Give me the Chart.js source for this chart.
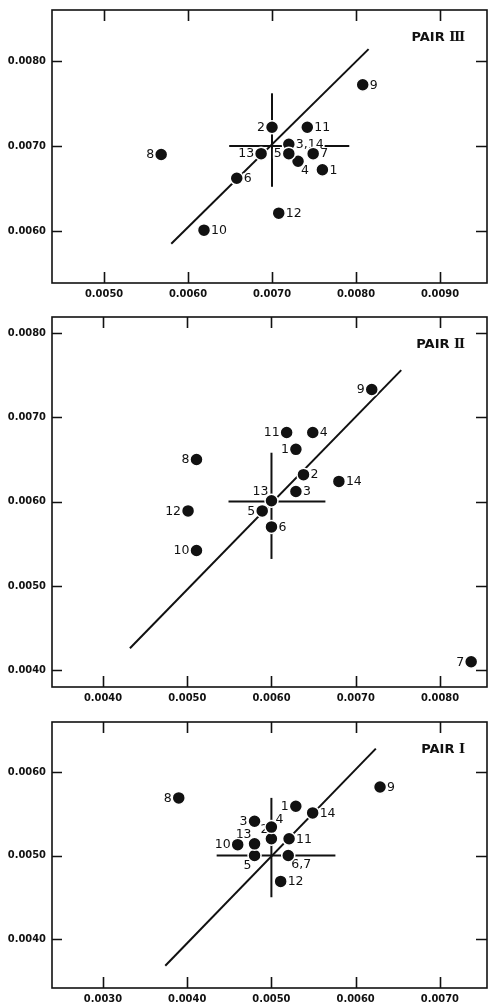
<!DOCTYPE html>
<html lang="en">
<head>
<meta charset="UTF-8">
<title>Pairs I - III</title>
<script src="https://cdn.jsdelivr.net/npm/chart.js"></script>
<style>
  body { margin: 0; background: #fff; }
  #wrap { position: relative; width: 488px; height: 1007px; }
  canvas { position: absolute; left: 0; }
</style>
</head>
<body>
<div id="wrap">
  <canvas id="pair3" width="488" height="305" style="top:0px"></canvas>
  <canvas id="pair2" width="488" height="400" style="top:305px"></canvas>
  <canvas id="pair1" width="488" height="302" style="top:705px"></canvas>
</div>
<script>
// ---- PAIR III ----
const pair3Labels = ['1', '2', '3,14', '4', '5', '6', '7', '8', '9', '10', '11', '12', '13'];
const pair3X = [0.00760, 0.00700, 0.00720, 0.00731, 0.00720, 0.00658, 0.00749, 0.00568, 0.00808, 0.00619, 0.00742, 0.00708, 0.00687];
const pair3Y = [0.00672, 0.00722, 0.00702, 0.00682, 0.00691, 0.00662, 0.00691, 0.00690, 0.00772, 0.00601, 0.00722, 0.00621, 0.00691];
const pair3FitX = [0.00580, 0.00815];
const pair3FitY = [0.00585, 0.00814];
const pair3Mean = [0.00700, 0.00700];
const pair3SpreadX = [0.00649, 0.00792];
const pair3SpreadY = [0.00652, 0.00762];
const pair3XTicks = [0.0050, 0.0060, 0.0070, 0.0080, 0.0090];
const pair3YTicks = [0.0060, 0.0070, 0.0080];
const pair3XRange = [0.00438, 0.00956];
const pair3YRange = [0.005388, 0.00860];

// ---- PAIR II ----
const pair2Labels = ['1', '2', '3', '4', '5', '6', '7', '8', '9', '10', '11', '12', '13', '14'];
const pair2X = [0.00629, 0.00638, 0.00629, 0.00649, 0.00589, 0.00600, 0.00837, 0.00511, 0.00719, 0.00511, 0.00618, 0.00501, 0.00600, 0.00680];
const pair2Y = [0.00662, 0.00632, 0.00612, 0.00682, 0.00589, 0.00570, 0.00410, 0.00650, 0.00733, 0.00542, 0.00682, 0.00589, 0.00601, 0.00624];
const pair2FitX = [0.00432, 0.00754];
const pair2FitY = [0.00426, 0.00756];
const pair2Mean = [0.00600, 0.00600];
const pair2SpreadX = [0.00549, 0.00664];
const pair2SpreadY = [0.00532, 0.00658];
const pair2XTicks = [0.0040, 0.0050, 0.0060, 0.0070, 0.0080];
const pair2YTicks = [0.0040, 0.0050, 0.0060, 0.0070, 0.0080];
const pair2XRange = [0.003395, 0.008558];
const pair2YRange = [0.003801, 0.00819];

// ---- PAIR I ----
const pair1Labels = ['1', '2', '3', '4', '5', '6,7', '8', '9', '10', '11', '12', '13', '14'];
const pair1X = [0.00529, 0.00500, 0.00480, 0.00500, 0.00480, 0.00520, 0.00390, 0.00629, 0.00460, 0.00521, 0.00511, 0.00480, 0.00549];
const pair1Y = [0.00559, 0.00520, 0.00541, 0.00534, 0.00500, 0.00500, 0.00569, 0.00582, 0.00513, 0.00520, 0.00469, 0.00514, 0.00551];
const pair1FitX = [0.00374, 0.00624];
const pair1FitY = [0.00368, 0.00628];
const pair1Mean = [0.00500, 0.00500];
const pair1SpreadX = [0.00435, 0.00576];
const pair1SpreadY = [0.00450, 0.00569];
const pair1XTicks = [0.0030, 0.0040, 0.0050, 0.0060, 0.0070];
const pair1YTicks = [0.0040, 0.0050, 0.0060];
const pair1XRange = [0.002395, 0.00756];
const pair1YRange = [0.003413, 0.006599];

// where each number sits relative to its dot
const pair3Side = ['r', 'l', 'r', 'dr', 'l', 'r', 'r', 'l', 'r', 'r', 'r', 'r', 'l'];
const pair2Side = ['l', 'r', 'r', 'r', 'l', 'r', 'l', 'l', 'l', 'l', 'l', 'l', 'ul', 'r'];
const pair1Side = ['l', 'ul', 'l', 'ur', 'dl', 'dr', 'l', 'r', 'l', 'r', 'r', 'ul', 'r'];

const INK = '#111';
const SANS = "'DejaVu Sans', sans-serif";

// frame, inward ticks, point numbers and the panel name
const decor = {
  id: 'decor',
  beforeDatasetDraw(chart, args, opts) {
    if (args.index !== 0) return;   // numbers go over the lines, under the dots
    const ctx = chart.ctx;
    const meta = chart.getDatasetMeta(0);
    ctx.save();
    ctx.font = '12.5px ' + SANS;
    ctx.textBaseline = 'middle';
    meta.data.forEach((pt, i) => {
      const txt = opts.labels[i];
      const side = opts.side[i];
      let x = pt.x, y = pt.y, align = 'left';
      if (side === 'r') { x += 7; }
      else if (side === 'l') { x -= 7; align = 'right'; }
      else if (side === 'ur') { x += 4; y -= 8; }
      else if (side === 'ul') { x -= 3; y -= 10; align = 'right'; }
      else if (side === 'dr') { x += 3; y += 9; }
      else if (side === 'dl') { x -= 3; y += 10; align = 'right'; }
      const w = ctx.measureText(txt).width;
      const x0 = align === 'left' ? x : x - w;
      ctx.fillStyle = '#fff';
      ctx.fillRect(x0 - 1, y - 5, w + 2, 10);
      ctx.fillStyle = INK;
      ctx.textAlign = align;
      ctx.fillText(txt, x, y + 0.5);
    });
    ctx.restore();
  },
  afterDraw(chart, args, opts) {
    const ctx = chart.ctx;
    const a = chart.chartArea;
    const xs = chart.scales.x, ys = chart.scales.y;
    ctx.save();
    ctx.strokeStyle = INK;
    ctx.lineWidth = 1.6;
    ctx.strokeRect(a.left, a.top, a.right - a.left, a.bottom - a.top);
    ctx.beginPath();
    opts.xTicks.forEach(v => {
      const p = Math.round(xs.getPixelForValue(v)) + 0.5;
      ctx.moveTo(p, a.bottom); ctx.lineTo(p, a.bottom - 11);
      ctx.moveTo(p, a.top); ctx.lineTo(p, a.top + 11);
    });
    opts.yTicks.forEach(v => {
      const p = Math.round(ys.getPixelForValue(v)) + 0.5;
      ctx.moveTo(a.left, p); ctx.lineTo(a.left + 10, p);
      ctx.moveTo(a.right, p); ctx.lineTo(a.right - 11, p);
    });
    ctx.stroke();

    // panel name: sans word, serif roman numeral
    const ty = a.top + 28;
    ctx.fillStyle = INK;
    ctx.textBaseline = 'middle';
    ctx.font = "bold 13px 'DejaVu Serif', serif";
    const numW = ctx.measureText(opts.numeral).width;
    const right = a.right - 22;
    ctx.textAlign = 'right';
    ctx.fillText(opts.numeral, right, ty);
    ctx.font = 'bold 13px ' + SANS;
    ctx.fillText('PAIR ', right - numW, ty);
    ctx.restore();
  }
};

function pts(xs, ys) {
  return xs.map((x, i) => ({ x: x, y: ys[i] }));
}

function drawPair(id, p) {
  const canvas = document.getElementById(id);
  const tickFont = { family: "'DejaVu Sans Condensed', 'DejaVu Sans', sans-serif", size: 11, weight: 'bold' };
  const lineStyle = { showLine: true, borderColor: INK, borderWidth: 2, pointRadius: 0, fill: false };
  new Chart(canvas.getContext('2d'), {
    type: 'scatter',
    data: {
      datasets: [
        {
          data: pts(p.x, p.y),
          pointRadius: 6.5,
          pointBackgroundColor: INK,
          pointBorderColor: '#fff',
          pointBorderWidth: 1.5
        },
        Object.assign({ data: pts(p.fitX, p.fitY) }, lineStyle),
        Object.assign({ data: pts(p.spreadX, [p.mean[1], p.mean[1]]) }, lineStyle),
        Object.assign({ data: pts([p.mean[0], p.mean[0]], p.spreadY) }, lineStyle)
      ]
    },
    options: {
      responsive: false,
      animation: false,
      events: [],
      layout: { autoPadding: false, padding: { top: p.top, right: 1, left: 0, bottom: 0 } },
      plugins: {
        legend: { display: false },
        tooltip: { enabled: false },
        decor: {
          labels: p.labels, side: p.side, numeral: p.numeral,
          xTicks: p.xTicks, yTicks: p.yTicks
        }
      },
      scales: {
        x: {
          type: 'linear',
          min: p.xRange[0], max: p.xRange[1],
          grid: { display: false, drawTicks: false },
          border: { display: false },
          afterBuildTicks: s => { s.ticks = p.xTicks.map(v => ({ value: v })); },
          afterFit: s => {
            s.height = canvas.height - p.areaBottom;
            s.paddingLeft = 0; s.paddingRight = 0;
          },
          ticks: {
            color: INK, font: tickFont, padding: 5, maxRotation: 0,
            callback: v => v.toFixed(4)
          }
        },
        y: {
          type: 'linear',
          min: p.yRange[0], max: p.yRange[1],
          grid: { display: false, drawTicks: false },
          border: { display: false },
          afterBuildTicks: s => { s.ticks = p.yTicks.map(v => ({ value: v })); },
          afterFit: s => {
            s.width = 52;
            s.paddingTop = 0; s.paddingBottom = 0;
          },
          ticks: {
            color: INK, font: tickFont, padding: 6,
            callback: v => v.toFixed(4)
          }
        }
      }
    },
    plugins: [decor]
  });
}

drawPair('pair3', {
  labels: pair3Labels, x: pair3X, y: pair3Y, side: pair3Side,
  fitX: pair3FitX, fitY: pair3FitY, mean: pair3Mean,
  spreadX: pair3SpreadX, spreadY: pair3SpreadY,
  xTicks: pair3XTicks, yTicks: pair3YTicks,
  xRange: pair3XRange, yRange: pair3YRange,
  numeral: '\u2162', top: 10, areaBottom: 283
});
drawPair('pair2', {
  labels: pair2Labels, x: pair2X, y: pair2Y, side: pair2Side,
  fitX: pair2FitX, fitY: pair2FitY, mean: pair2Mean,
  spreadX: pair2SpreadX, spreadY: pair2SpreadY,
  xTicks: pair2XTicks, yTicks: pair2YTicks,
  xRange: pair2XRange, yRange: pair2YRange,
  numeral: '\u2161', top: 12, areaBottom: 382
});
drawPair('pair1', {
  labels: pair1Labels, x: pair1X, y: pair1Y, side: pair1Side,
  fitX: pair1FitX, fitY: pair1FitY, mean: pair1Mean,
  spreadX: pair1SpreadX, spreadY: pair1SpreadY,
  xTicks: pair1XTicks, yTicks: pair1YTicks,
  xRange: pair1XRange, yRange: pair1YRange,
  numeral: '\u2160', top: 17, areaBottom: 283
});
</script>
</body>
</html>
